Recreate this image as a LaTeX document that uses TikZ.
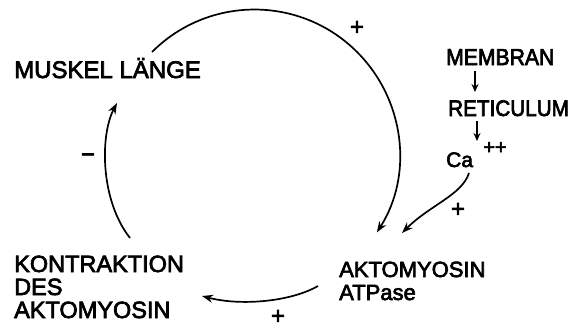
\documentclass[tikz,border=0pt]{standalone}
\usepackage{fontspec}
\setmainfont{Liberation Sans}[UprightFeatures={FakeBold=3}]
\newfontfamily\condfont{Liberation Sans}[UprightFeatures={FakeBold=3},FakeStretch=0.92]
\usetikzlibrary{arrows.meta}
\begin{document}
\begin{tikzpicture}[x=1pt,y=-1pt,
  lbl/.style={inner sep=0pt, font=\fontsize{24}{23}\selectfont},
  arr/.style={line width=1.7pt, -{Stealth[length=11pt,width=8pt]}},
  sarr/.style={line width=1.7pt, -{Stealth[length=8pt,width=7pt]}},
  sign/.style={inner sep=0pt, font=\fontsize{24}{24}\selectfont}]
\useasboundingbox (0,0) rectangle (575,329);
% labels
\node[lbl, anchor=base west] (muskel) at (14,78) {MUSKEL LÄNGE};
\node[lbl, anchor=base west, align=left, font=\fontsize{23.5}{23}\selectfont] (kontr) at (14,318) {KONTRAKTION\\DES\\AKTOMYOSIN};
\node[lbl, anchor=base west, align=left, font=\fontsize{22}{23}\selectfont] (atp) at (339,300) {AKTOMYOSIN\\ATPase};
\node[lbl, anchor=base west, font=\condfont\fontsize{23}{23}\selectfont] (membran) at (446,65) {MEMBRAN};
\node[lbl, anchor=base west, font=\condfont\fontsize{22.5}{23}\selectfont] (retic) at (448,116) {RETICULUM};
\node[lbl, anchor=base west, font=\fontsize{21}{22}\selectfont] (ca) at (446,167) {Ca};
\node[sign, font=\fontsize{20}{20}\selectfont] (capp) at (495,148) {++};
% connector endpoints
\coordinate (c1s) at (152,52);
\coordinate (c2s) at (130,238);
\coordinate (c2e) at (117,103);
\coordinate (c3s) at (318,286);
\coordinate (c3e) at (202,296);
\coordinate (c4s) at (469,173);
\coordinate (c4e) at (402,233);
\coordinate (m1) at (475,71);
\coordinate (m2) at (475,92);
\coordinate (r1) at (477,121);
\coordinate (r2) at (477,141);
% connectors
\draw[arr] (c1s) arc[start angle=225, end angle=392.5, radius=145];
\draw[arr] (c2s) .. controls (100,200) and (100,135) .. (c2e);
\draw[arr] (c3s) .. controls (290,302) and (240,306) .. (c3e);
\draw[arr] (c4s) .. controls (462,195) and (430,205) .. (c4e);
\draw[sarr] (m1) -- (m2);
\draw[sarr] (r1) -- (r2);
% signs
\node[sign] (p1) at (357,28) {+};
\node[sign] (p2) at (88,158) {−};
\node[sign] (p3) at (458,210) {+};
\node[sign] (p4) at (278,317) {+};
\end{tikzpicture}
\end{document}
